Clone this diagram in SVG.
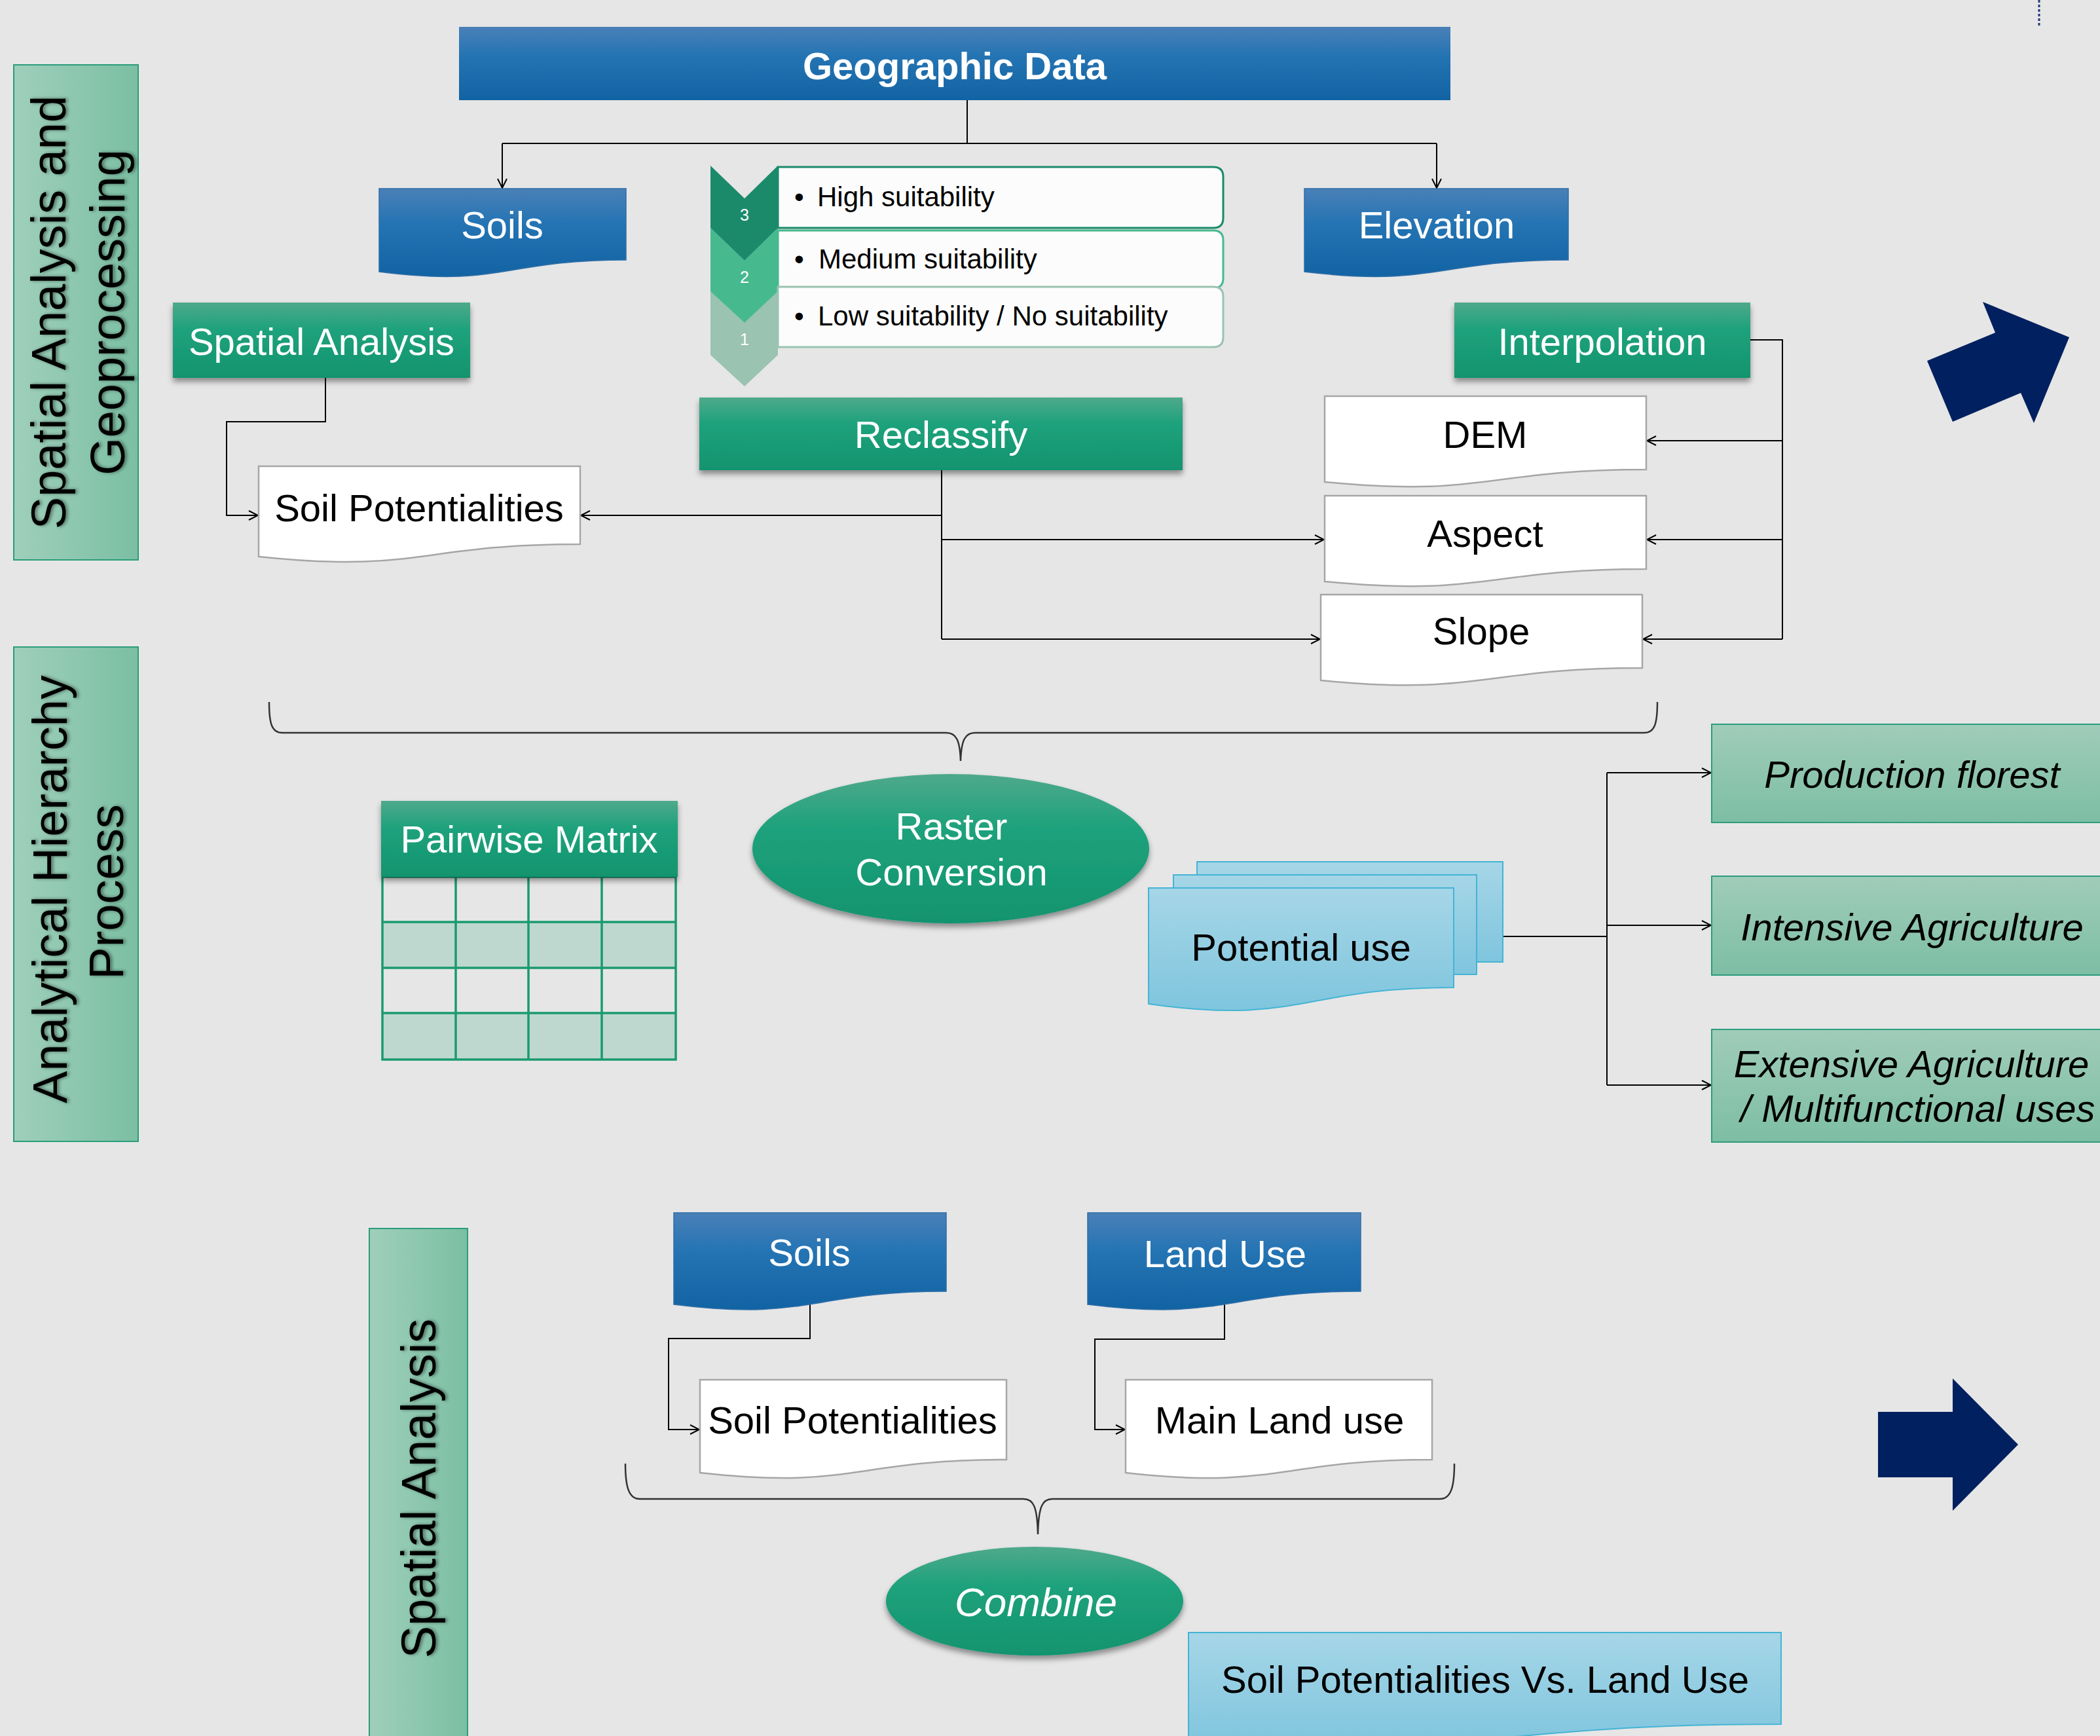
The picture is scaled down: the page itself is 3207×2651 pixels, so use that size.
<svg xmlns="http://www.w3.org/2000/svg" width="3207" height="2651" viewBox="0 0 3207 2651">
<defs>
<linearGradient id="gBlue" x1="0" y1="0" x2="0" y2="1"><stop offset="0" stop-color="#4a80b8"/><stop offset="0.4" stop-color="#2474b3"/><stop offset="1" stop-color="#1263a3"/></linearGradient>
<linearGradient id="gGreen" x1="0" y1="0" x2="0" y2="1"><stop offset="0" stop-color="#4ea98b"/><stop offset="0.35" stop-color="#1fa27c"/><stop offset="1" stop-color="#11946e"/></linearGradient>
<linearGradient id="gLight" x1="0" y1="0" x2="0" y2="1"><stop offset="0" stop-color="#a6d6e7"/><stop offset="1" stop-color="#7fc5de"/></linearGradient>
<linearGradient id="gLabel" x1="0" y1="0" x2="1" y2="0"><stop offset="0" stop-color="#9fcfbb"/><stop offset="1" stop-color="#7bbfa3"/></linearGradient>
<linearGradient id="gRight" x1="0" y1="0" x2="0" y2="1"><stop offset="0" stop-color="#a0ccba"/><stop offset="1" stop-color="#7dbea4"/></linearGradient>
<filter id="sh" x="-10%" y="-20%" width="120%" height="150%"><feDropShadow dx="0" dy="6" stdDeviation="4" flood-color="#000" flood-opacity="0.4"/></filter>
<filter id="ts" x="-10%" y="-10%" width="120%" height="120%"><feDropShadow dx="3" dy="0" stdDeviation="2.5" flood-color="#000" flood-opacity="0.45"/></filter>
<marker id="arr" viewBox="0 0 16 16" refX="15" refY="8" markerWidth="16" markerHeight="16" orient="auto" markerUnits="userSpaceOnUse"><path d="M1,1 L15,8 L1,15" fill="none" stroke="#000" stroke-width="2"/></marker>
<style>
text{font-family:"Liberation Sans",Arial,sans-serif}
.w{fill:#fff;font-size:58px;text-anchor:middle}
.b{fill:#000;font-size:58px;text-anchor:middle}
.bs{fill:#000;font-size:58px;text-anchor:start}
.lbl{fill:#000;font-size:74px;text-anchor:middle}
.row{fill:#000;font-size:42px}
.it{font-style:italic}
.big{font-size:62px}
.blue{fill:url(#gBlue);stroke:#2e6ea8;stroke-width:1.5}
.green{fill:url(#gGreen);filter:url(#sh)}
.doc{fill:#fff;stroke:#a6a6a6;stroke-width:2.5}
.light{fill:url(#gLight);stroke:#44b4d4;stroke-width:2}
.label{fill:url(#gLabel);stroke:#2b9d7b;stroke-width:2}
.rbox{fill:url(#gRight);stroke:#2b9d7b;stroke-width:2}
.con{fill:none;stroke:#000;stroke-width:2}
.brace{fill:none;stroke:#333;stroke-width:2.5}
.navy{fill:#00205f}
</style>
</defs>
<rect width="3207" height="2651" fill="#e6e6e6"/>

<g id="label-geoprocessing">
<rect class="label" x="21" y="99" width="190" height="756"/>
<g filter="url(#ts)">
<text class="lbl" transform="translate(100,477) rotate(-90)">Spatial Analysis and</text>
<text class="lbl" transform="translate(190,477) rotate(-90)">Geoprocessing</text>
</g>
</g>
<g id="label-ahp">
<rect class="label" x="21" y="988" width="190" height="755"/>
<g filter="url(#ts)">
<text class="lbl" transform="translate(102,1358) rotate(-90)">Analytical Hierarchy</text>
<text class="lbl" transform="translate(188,1362) rotate(-90)">Process</text>
</g>
</g>
<g id="label-spatial">
<rect class="label" x="564" y="1876" width="150" height="800"/>
<g filter="url(#ts)">
<text class="lbl" transform="translate(665,2273) rotate(-90)">Spatial Analysis</text>
</g>
</g>

<g id="connectors">
<path class="con" d="M1477,153 V219 M767,219 H2194"/>
<path class="con" d="M767,219 V287" marker-end="url(#arr)"/>
<path class="con" d="M2194,219 V287" marker-end="url(#arr)"/>
<path class="con" d="M497,577 V644 H346 V787 H394" marker-end="url(#arr)"/>
<path class="con" d="M1438,718 V976"/>
<path class="con" d="M1438,787 H887" marker-end="url(#arr)"/>
<path class="con" d="M1438,824 H2022" marker-end="url(#arr)"/>
<path class="con" d="M1438,976 H2016" marker-end="url(#arr)"/>
<path class="con" d="M2673,519 H2722 V976"/>
<path class="con" d="M2722,673 H2515" marker-end="url(#arr)"/>
<path class="con" d="M2722,824 H2515" marker-end="url(#arr)"/>
<path class="con" d="M2722,976 H2509" marker-end="url(#arr)"/>
<path class="con" d="M2295,1430 H2454 M2454,1180 V1657"/>
<path class="con" d="M2454,1180 H2613" marker-end="url(#arr)"/>
<path class="con" d="M2454,1413 H2613" marker-end="url(#arr)"/>
<path class="con" d="M2454,1657 H2613" marker-end="url(#arr)"/>
<path class="con" d="M1237,1992 V2044 H1021 V2183 H1068" marker-end="url(#arr)"/>
<path class="con" d="M1870,1992 V2045 H1672 V2183 H1718" marker-end="url(#arr)"/>
<path class="brace" d="M411,1072 C411,1105 415,1119 431,1119 H1445 C1460,1119 1466,1130 1467,1162 C1468,1130 1474,1119 1489,1119 H2511 C2527,1119 2531,1105 2531,1072"/>
<path class="brace" d="M955,2235 C955,2270 960,2289 977,2289 H1563 C1578,2289 1584,2300 1585,2343 C1586,2300 1592,2289 1607,2289 H2199 C2216,2289 2221,2270 2221,2235"/>
</g>

<g id="geographic-data">
<rect x="701" y="41" width="1514" height="112" fill="url(#gBlue)"/>
<text x="1458" y="121" class="w" font-weight="bold">Geographic Data</text>
</g>
<g id="soils-top">
<path class="blue" d="M579,288 H956 V397 C767,397 767,439 579,415 Z"/>
<text x="767" y="364" class="w">Soils</text>
</g>
<g id="elevation">
<path class="blue" d="M1992,288 H2395 V397 C2193,397 2193,439 1992,415 Z"/>
<text x="2194" y="364" class="w">Elevation</text>
</g>
<g id="spatial-analysis">
<rect class="green" x="264" y="462" width="454" height="115"/>
<text x="491" y="542" class="w">Spatial Analysis</text>
</g>
<g id="interpolation">
<rect class="green" x="2221" y="462" width="452" height="115"/>
<text x="2447" y="542" class="w">Interpolation</text>
</g>

<g id="suitability-list">
<path fill="#9ac3b1" d="M1085,445 L1137,493 L1188,445 V542 L1137,590 L1085,542 Z"/>
<path fill="#46b98f" d="M1085,348 L1137,398 L1188,348 V445 L1137,493 L1085,445 Z"/>
<path fill="#1b8a6b" d="M1085,253 L1137,303 L1188,253 V348 L1137,398 L1085,348 Z"/>
<text x="1137" y="337" fill="#fff" font-size="25" text-anchor="middle">3</text>
<text x="1137" y="432" fill="#fff" font-size="25" text-anchor="middle">2</text>
<text x="1137" y="527" fill="#fff" font-size="25" text-anchor="middle">1</text>
<path d="M1188,255 H1853 Q1868,255 1868,270 V333 Q1868,348 1853,348 H1188 Z" fill="#fcfcfc" stroke="#1b8a6b" stroke-width="3"/>
<path d="M1188,352 H1853 Q1868,352 1868,367 V425 Q1868,440 1853,440 H1188 Z" fill="#fcfcfc" stroke="#46b98f" stroke-width="3"/>
<path d="M1188,438 H1853 Q1868,438 1868,453 V515 Q1868,530 1853,530 H1188 Z" fill="#fcfcfc" stroke="#9ac3b1" stroke-width="3"/>
<text x="1213" y="315" class="row">•</text><text x="1248" y="315" class="row">High suitability</text>
<text x="1213" y="410" class="row">•</text><text x="1250" y="410" class="row">Medium suitability</text>
<text x="1213" y="497" class="row">•</text><text x="1249" y="497" class="row">Low suitability / No suitability</text>
</g>

<g id="reclassify">
<rect class="green" x="1068" y="607" width="738" height="111"/>
<text x="1437" y="684" class="w">Reclassify</text>
</g>
<g id="soil-potentialities-top">
<path class="doc" d="M395,712 H886 V831 C640,831 640,876 395,850 Z"/>
<text x="640" y="796" class="b">Soil Potentialities</text>
</g>
<g id="dem">
<path class="doc" d="M2023,605 H2514 V717 C2268,717 2268,760 2023,736 Z"/>
<text x="2268" y="684" class="b">DEM</text>
</g>
<g id="aspect">
<path class="doc" d="M2023,757 H2514 V869 C2268,869 2268,912 2023,888 Z"/>
<text x="2268" y="835" class="b">Aspect</text>
</g>
<g id="slope">
<path class="doc" d="M2017,908 H2508 V1020 C2262,1020 2262,1063 2017,1039 Z"/>
<text x="2262" y="984" class="b">Slope</text>
</g>

<g id="pairwise-matrix">
<g fill="#bed8d0"><rect x="584" y="1408" width="448" height="70"/><rect x="584" y="1547" width="448" height="71"/></g>
<g fill="none" stroke="#1a9a70" stroke-width="3.5">
<rect x="584" y="1339" width="448" height="279"/>
<path d="M584,1408 H1032 M584,1478 H1032 M584,1547 H1032 M696,1339 V1618 M807,1339 V1618 M919,1339 V1618"/>
</g>
<rect class="green" x="582" y="1223" width="453" height="116"/>
<text x="808" y="1302" class="w">Pairwise Matrix</text>
</g>
<g id="raster-conversion">
<ellipse class="green" cx="1452" cy="1296" rx="303" ry="114"/>
<text x="1453" y="1282" class="w">Raster</text>
<text x="1453" y="1352" class="w">Conversion</text>
</g>
<g id="potential-use">
<rect class="light" x="1828" y="1316" width="467" height="153"/>
<rect class="light" x="1792" y="1336" width="463" height="152"/>
<path class="light" d="M1754,1356 H2220 V1508 C1987,1508 1987,1566 1754,1533 Z"/>
<text x="1987" y="1467" class="b">Potential use</text>
</g>
<g id="production-florest">
<rect class="rbox" x="2614" y="1106" width="612" height="150"/>
<text x="2920" y="1203" class="b it">Production florest</text>
</g>
<g id="intensive-agriculture">
<rect class="rbox" x="2614" y="1338" width="612" height="151"/>
<text x="2920" y="1436" class="b it">Intensive Agriculture</text>
</g>
<g id="extensive-agriculture">
<rect class="rbox" x="2614" y="1572" width="612" height="172"/>
<text x="2919" y="1645" class="b it">Extensive Agriculture</text>
<text x="2658" y="1713" class="bs it">/ Multifunctional uses</text>
</g>

<g id="soils-bottom">
<path class="blue" d="M1029,1852 H1445 V1972 C1237,1972 1237,2018 1029,1992 Z"/>
<text x="1236" y="1933" class="w">Soils</text>
</g>
<g id="land-use">
<path class="blue" d="M1661,1852 H2078 V1972 C1870,1972 1870,2018 1661,1992 Z"/>
<text x="1871" y="1935" class="w">Land Use</text>
</g>
<g id="soil-potentialities-bottom">
<path class="doc" d="M1069,2107 H1537 V2229 C1303,2229 1303,2275 1069,2249 Z"/>
<text x="1302" y="2189" class="b">Soil Potentialities</text>
</g>
<g id="main-land-use">
<path class="doc" d="M1719,2107 H2187 V2229 C1953,2229 1953,2275 1719,2249 Z"/>
<text x="1954" y="2189" class="b">Main Land use</text>
</g>
<g id="combine">
<ellipse class="green" cx="1580" cy="2445" rx="227" ry="83"/>
<text x="1582" y="2468" class="w it big">Combine</text>
</g>
<g id="soil-vs-land-use">
<path class="light" d="M1815,2493 H2720 V2633 C2267,2633 2267,2687 1815,2656 Z"/>
<text x="2268" y="2585" class="b">Soil Potentialities Vs. Land Use</text>
</g>

<g id="arrow-top-right">
<polygon class="navy" points="3028,461 3160,515 3106,646 3086,600 2982,644 2943,551 3047,508"/>
</g>
<g id="arrow-bottom-right">
<polygon class="navy" points="2868,2156 2982,2156 2982,2105 3082,2206 2982,2307 2982,2256 2868,2256"/>
</g>
<line x1="3114" y1="0" x2="3114" y2="41" stroke="#1f3a7a" stroke-width="3" stroke-dasharray="4 3"/>
</svg>
